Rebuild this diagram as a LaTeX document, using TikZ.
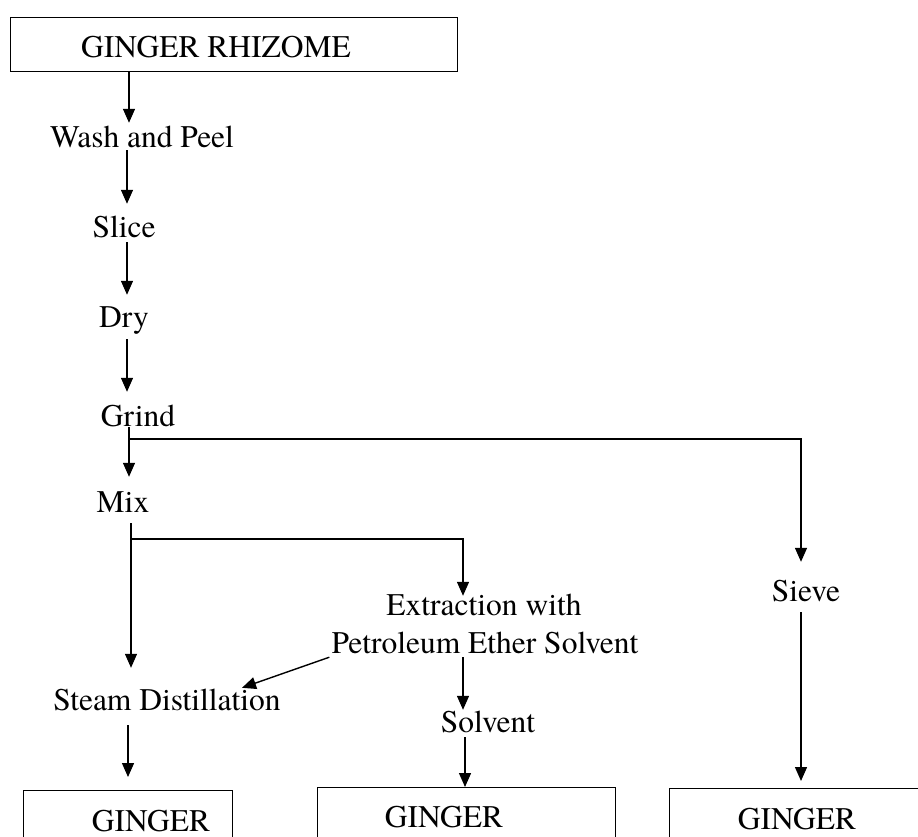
\documentclass[tikz,border=0pt]{standalone}
\usepackage{fontspec}
\setmainfont{texgyretermes}[Extension=.otf, UprightFont=*-regular, BoldFont=*-bold, ItalicFont=*-italic, BoldItalicFont=*-bolditalic]
\usetikzlibrary{arrows.meta}
\begin{document}
\begin{tikzpicture}[x=1pt,y=-1pt,
  lbl/.style={inner sep=0pt, anchor=base, text height=22pt, text depth=0pt, font=\fontsize{31.5}{38}\selectfont},
  boxnode/.style={draw, line width=1.4pt, inner sep=0pt, anchor=north west},
  arr/.style={line width=1.4pt, -{Triangle[length=14pt,width=12pt]}},
  ln/.style={line width=1.4pt}]
\useasboundingbox (0,0) rectangle (918,837);
\clip (0,0) rectangle (918,837);
% column coordinates
\coordinate (cA) at (129,0);
\coordinate (cB) at (127,0);
\coordinate (cC) at (129,0);
\coordinate (cD) at (131,0);
\coordinate (cE) at (463,0);
\coordinate (cF) at (465,0);
\coordinate (cG) at (801,0);
\coordinate (cH) at (128,0);
% boxes
\node[boxnode, minimum width=447pt, minimum height=54pt] (top) at (10,17) {};
\node[lbl] (topt) at (216,58) {GINGER RHIZOME};
\node[boxnode, minimum width=209pt, minimum height=90pt] (b1) at (23,790) {};
\node[lbl] (b1t) at (151,831) {GINGER};
\node[boxnode, minimum width=298pt, minimum height=90pt] (b2) at (317,787) {};
\node[lbl] (b2t) at (444,827) {GINGER};
\node[boxnode, minimum width=300pt, minimum height=90pt] (b3) at (669,788) {};
\node[lbl] (b3t) at (797,829) {GINGER};
% labels
\node[lbl] (wash) at (142,148) {Wash and Peel};
\node[lbl] (slice) at (124,237) {Slice};
\node[lbl] (dry) at (124,327) {Dry};
\node[lbl] (grind) at (138,426) {Grind};
\node[lbl] (mix) at (123,512) {Mix};
\node[lbl] (sieve) at (806,601) {Sieve};
\node[lbl] (ext1) at (484,615) {Extraction with};
\node[lbl] (ext2) at (485,653) {Petroleum Ether Solvent};
\node[lbl] (steam) at (167,710) {Steam Distillation};
\node[lbl] (solv) at (488,732) {Solvent};
% arrows
\draw[arr, shorten >=3pt] (top.south -| cA) -- (wash.north -| cA);
\draw[arr, shorten <=2pt, shorten >=11pt] (wash.south -| cB) -- (slice.north -| cB);
\draw[arr, shorten <=5pt, shorten >=10pt] (slice.south -| cB) -- (dry.north -| cB);
\draw[arr, shorten <=12pt, shorten >=12pt] (dry.south -| cB) -- (grind.north -| cB);
\draw[arr, shorten <=1pt, shorten >=13pt] (grind.south -| cC) -- (mix.north -| cC);
\coordinate (gj) at (129,439);
\draw[arr, shorten >=17pt] (gj) -| (sieve.north -| cG);
\draw[arr, shorten <=11pt, shorten >=20pt] (mix.south -| cD) -- (steam.north -| cD);
\coordinate (mj) at (131,539);
\draw[arr, shorten >=-3pt] (mj) -| (ext1.north -| cE);
\draw[arr] ([xshift=-2pt,yshift=-4pt]ext2.south west) -- ([xshift=75pt]steam.north);
\draw[arr, shorten <=4pt] (ext2.south -| cE) -- (solv.north -| cE);
\draw[arr, shorten <=5pt] (solv.south -| cF) -- (b2.north -| cF);
\draw[arr, shorten <=15pt, shorten >=13pt] (steam.south -| cH) -- (b1.north -| cH);
\draw[arr, shorten <=11pt, shorten >=7pt] (sieve.south -| cG) -- (b3.north -| cG);
\end{tikzpicture}
\end{document}
